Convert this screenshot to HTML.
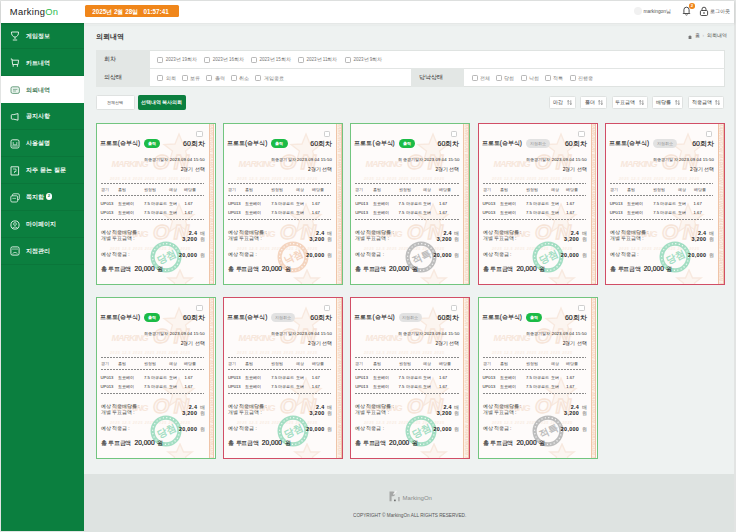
<!DOCTYPE html><html><head><meta charset="utf-8"><style>
*{box-sizing:border-box;margin:0;padding:0}
html,body{width:736px;height:532px;overflow:hidden}
body{position:relative;background:#e2e4e3;font-family:'Liberation Sans',sans-serif;color:#333}
.a{position:absolute;white-space:nowrap}
#hdr{left:1px;top:1px;width:733px;height:21.5px;background:#fff;box-shadow:0 1px 2.5px rgba(0,0,0,.16)}
#hsh{left:84px;top:22.5px;width:650px;height:2px;background:linear-gradient(#e2e5e4,#eef1f0)}
#side{left:1px;top:22.5px;width:83px;height:508.5px;background:#0b7f3f}
#main{left:84px;top:22.5px;width:650px;height:451.5px;background:#eef2f1}
#foot{left:84px;top:474px;width:650px;height:58px;background:#dee3e1}
.si{left:1px;width:83px;height:26.9px;border-bottom:0.6px solid rgba(0,30,10,.09);color:#f2f8f4;font-size:6.2px;font-weight:bold}
.si.on{background:#fff;color:#3f7a58;font-weight:bold;border-bottom:none}
.si .t{position:absolute;left:24.6px;top:9.3px;line-height:7px;letter-spacing:0.1px}
.si svg{position:absolute;left:8.6px;top:8.8px}
.ft{background:#fff;border:0.6px solid #dfe3e1}
.lab{background:#e3e7e5;color:#2a2a2a;font-weight:normal;font-size:5.6px;line-height:19px;padding-left:8.5px}
.cb{width:6px;height:6px;border:0.6px solid #b8b8b8;border-radius:1.2px;background:#fff}
.ct{font-size:4.5px;color:#777;line-height:6px}
.btn{background:#fff;border:0.6px solid #dfe2e1;border-radius:1.5px;font-size:4.4px;color:#333;text-align:center;line-height:13px}
.card{width:120.3px;height:162px;background:#fefbfa;border:1px solid #72c57f;overflow:hidden}
.card.r{border-color:#d14e66}
.strip{left:112.3px;top:0;width:5.6px;height:160px;background:#fcf1e9;border-left:1px solid #efc4a8;border-right:1px solid #efc4a8;overflow:hidden}
.stt{position:absolute;left:4.4px;top:-2px;transform-origin:0 0;transform:rotate(90deg);font-size:4.6px;line-height:5.6px;color:#f5d8c5;font-weight:bold;font-style:italic;letter-spacing:0.2px;white-space:nowrap}
.tt{left:3.2px;top:15.4px;font-size:6.4px;line-height:8px;color:#222;-webkit-text-stroke:0.1px #222}
.bdg{left:47.4px;top:15.2px;width:16.3px;height:9.2px;border-radius:4.6px;background:#1bbb46;color:#fff;font-size:3.8px;line-height:10.4px;text-align:center;font-weight:bold}
.bdg.x{width:23.8px;background:#e2e2e2;color:#8a8a8a;font-weight:normal;font-size:3.9px}
.rnd{right:10.1px;top:15.8px;font-size:7px;line-height:8px;font-weight:normal;color:#222;-webkit-text-stroke:0.12px #222}
.sm{margin-top:-0.5px;right:10.1px;font-size:4.3px;line-height:6px;color:#222;letter-spacing:0.1px}
.dl{left:4px;width:103.6px;height:1px;background:repeating-linear-gradient(90deg,#8a8a8a 0 2px,transparent 2px 3px)}
.gt,.gr{font-size:4.2px;line-height:5px;color:#444}
.gr{color:#1a1a1a}
.lb{left:4px;font-size:4.6px;line-height:6px;color:#333}
.vl{right:10.1px;font-size:4.8px;line-height:6px;color:#555}
.vl b{font-size:5.4px;color:#222;margin-right:2.6px;letter-spacing:0.3px}
.tot{left:4px;top:141.4px;font-size:5.6px;line-height:7px;color:#222;font-weight:normal;-webkit-text-stroke:0.08px #222}
</style></head><body><div class="a" id="side"></div>
<div class="a" id="main"></div>
<div class="a" id="foot"></div>
<div class="a" id="hdr"></div>
<div class="a" style="left:9.8px;top:5.6px;font-size:9.4px;line-height:11px;color:#222;letter-spacing:0.3px">Marking<span style="color:#2dbb4f">On</span></div>
<div class="a" style="left:84.6px;top:5.2px;width:94.5px;height:12.2px;background:#f0861a;border-radius:1.5px;color:#fff;font-size:6.3px;font-weight:bold;line-height:13.6px;padding-left:7.6px">2025년 2월 28일 &nbsp;&nbsp;01:57:41</div>
<div class="a" style="left:633.5px;top:6.8px;width:8px;height:8px;border-radius:50%;background:#f1f1f1"></div>
<div class="a" style="left:643.5px;top:9px;font-size:4.8px;color:#555;line-height:6px">markingon님</div>
<svg class="a" style="left:682px;top:5px" width="9" height="11" viewBox="0 0 9 11"><path d="M1.2 8.5 L1.9 7.5 V4.8 A2.6 2.6 0 0 1 7.1 4.8 V7.5 L7.8 8.5 Z" fill="none" stroke="#222" stroke-width="0.8" stroke-linejoin="round"/><path d="M3.4 9.6 Q4.5 10.6 5.6 9.6" fill="none" stroke="#222" stroke-width="0.7"/></svg>
<div class="a" style="left:689px;top:3.3px;width:5.6px;height:5.6px;border-radius:50%;background:#f0861a;color:#fff;font-size:4.2px;line-height:5.8px;text-align:center;font-weight:bold">2</div>
<svg class="a" style="left:698.5px;top:6px" width="10" height="10" viewBox="0 0 10 10"><path d="M3 4.5 V3.2 A2 2 0 0 1 7 3.2 V4.5" fill="none" stroke="#222" stroke-width="0.8"/><rect x="1.4" y="4.5" width="7.2" height="5" rx="1.2" fill="none" stroke="#222" stroke-width="0.8"/><circle cx="5" cy="7" r="0.8" fill="#222"/></svg>
<div class="a" style="left:709.8px;top:8.5px;font-size:4.6px;color:#555;line-height:6px">로그아웃</div>
<div class="a si" style="top:22.50px"><svg width="10" height="10" viewBox="0 0 10 10"><path d="M1.5 1 H8.5 Q8.8 5.2 5 6.2 Q1.2 5.2 1.5 1 Z" fill="none" stroke="#eef6f0" stroke-width="0.9"/><path d="M5 6.2 V8 M2.8 9 H7.2" stroke="#eef6f0" stroke-width="0.9"/></svg><span class="t">게임정보</span></div>
<div class="a si" style="top:49.40px"><svg width="10" height="10" viewBox="0 0 10 10"><path d="M0.8 1 H2 L2.6 6.5 H8 L8.6 2.2 H2.2" fill="none" stroke="#eef6f0" stroke-width="0.9"/><path d="M3.2 6.5 V8.8 M7.4 6.5 V8.8" stroke="#eef6f0" stroke-width="0.9"/></svg><span class="t">카트내역</span></div>
<div class="a si on" style="top:76.30px"><svg width="10" height="10" viewBox="0 0 10 10"><rect x="1" y="1.8" width="8.4" height="6.6" rx="1.6" fill="#e9f3ed" stroke="#4a8a64" stroke-width="0.8"/><path d="M3 4.4 H7.4 M3 6 H6" stroke="#4a8a64" stroke-width="0.6"/></svg><span class="t">의뢰내역</span></div>
<div class="a si" style="top:103.20px"><svg width="10" height="10" viewBox="0 0 10 10"><path d="M1.3 3.4 Q1.3 2.6 2.2 2.6 H3.8 L8 1.6 V8.2 L3.8 7.2 H2.2 Q1.3 7.2 1.3 6.4 Z" fill="none" stroke="#eef6f0" stroke-width="0.9" stroke-linejoin="round"/></svg><span class="t">공지사항</span></div>
<div class="a si" style="top:130.10px"><svg width="10" height="10" viewBox="0 0 10 10"><rect x="1" y="0.8" width="8" height="8.2" rx="1.5" fill="none" stroke="#eef6f0" stroke-width="0.9"/><path d="M3.2 3 V5.8 H6.8 V3 M2 7 H8" fill="none" stroke="#eef6f0" stroke-width="0.7"/></svg><span class="t">사용설명</span></div>
<div class="a si" style="top:157.00px"><svg width="10" height="10" viewBox="0 0 10 10"><path d="M1 0.8 H8.6 V9 H1 Z" fill="none" stroke="#eef6f0" stroke-width="0.9"/><path d="M3 3 H6 V5.5 H4.5 V7" fill="none" stroke="#eef6f0" stroke-width="0.7"/></svg><span class="t">자주 묻는 질문</span></div>
<div class="a si" style="top:183.90px"><svg width="10" height="10" viewBox="0 0 10 10"><rect x="2.5" y="0.8" width="6.8" height="6" rx="1.2" fill="none" stroke="#eef6f0" stroke-width="0.8"/><rect x="0.8" y="2.8" width="6.8" height="6.2" rx="1.2" fill="#0b7f3f" stroke="#eef6f0" stroke-width="0.8"/><path d="M2.4 5.4 H6" stroke="#eef6f0" stroke-width="0.6"/></svg><span class="t">쪽지함<span style="display:inline-block;width:6.3px;height:6.3px;border-radius:50%;background:#fff;color:#0b7f3f;font-size:4.2px;line-height:6.3px;text-align:center;vertical-align:top;margin-left:2px;margin-top:0.2px;font-weight:bold">2</span></span></div>
<div class="a si" style="top:210.80px"><svg width="10" height="10" viewBox="0 0 10 10"><circle cx="5" cy="5" r="4.1" fill="none" stroke="#eef6f0" stroke-width="0.9"/><circle cx="5" cy="4" r="1.4" fill="none" stroke="#eef6f0" stroke-width="0.7"/><path d="M2.6 8 Q5 5.6 7.4 8" fill="none" stroke="#eef6f0" stroke-width="0.7"/></svg><span class="t">마이페이지</span></div>
<div class="a si" style="top:237.70px"><svg width="10" height="10" viewBox="0 0 10 10"><rect x="0.9" y="0.9" width="8.2" height="8.2" rx="1.5" fill="none" stroke="#eef6f0" stroke-width="0.9"/><path d="M3 2.2 V4 M5 2.2 V4 M7 2.2 V4 M2.4 8 Q5 4.6 7.6 8" fill="none" stroke="#eef6f0" stroke-width="0.7"/></svg><span class="t">지점관리</span></div>
<div class="a" id="hsh"></div>
<div class="a" style="left:95.5px;top:32px;font-size:7.2px;font-weight:bold;color:#333;line-height:9px">의뢰내역</div>
<svg class="a" style="left:687.8px;top:34.6px" width="4" height="4" viewBox="0 0 4 4"><path d="M0 2 L2 0.2 L4 2 H3.4 V4 H0.6 V2 Z" fill="#777"/></svg><div class="a" style="left:694.6px;top:33.2px;font-size:4.5px;color:#555;line-height:6px">홈</div><div class="a" style="left:702.4px;top:33.2px;font-size:4.5px;color:#bbb;line-height:6px">›</div><div class="a" style="left:707px;top:33.2px;font-size:4.5px;color:#444;line-height:6px">의뢰내역</div>
<div class="a ft" style="left:95.5px;top:49.5px;width:629.3px;height:37.8px"></div>
<div class="a" style="left:95.5px;top:68px;width:629.3px;height:0.6px;background:#e2e5e4"></div>
<div class="a lab" style="left:95.5px;top:49.5px;width:54.3px;height:18.9px">회차</div>
<div class="a lab" style="left:95.5px;top:68.4px;width:54.3px;height:18.9px">의상태</div>
<div class="a lab" style="left:410.5px;top:68.4px;width:53.2px;height:18.9px">당낙상태</div>
<div class="a cb" style="left:157.40px;top:56.6px"></div><div class="a ct" style="left:165.70px;top:57.2px">2023년 19회차</div>
<div class="a cb" style="left:204.35px;top:56.6px"></div><div class="a ct" style="left:212.65px;top:57.2px">2023년 16회차</div>
<div class="a cb" style="left:251.30px;top:56.6px"></div><div class="a ct" style="left:259.60px;top:57.2px">2023년 15회차</div>
<div class="a cb" style="left:298.25px;top:56.6px"></div><div class="a ct" style="left:306.55px;top:57.2px">2023년 11회차</div>
<div class="a cb" style="left:345.20px;top:56.6px"></div><div class="a ct" style="left:353.50px;top:57.2px">2023년 9회차</div>
<div class="a cb" style="left:157.40px;top:75.2px"></div><div class="a ct" style="left:165.70px;top:75.8px">의뢰</div>
<div class="a cb" style="left:181.85px;top:75.2px"></div><div class="a ct" style="left:190.15px;top:75.8px">보류</div>
<div class="a cb" style="left:206.30px;top:75.2px"></div><div class="a ct" style="left:214.60px;top:75.8px">출력</div>
<div class="a cb" style="left:230.75px;top:75.2px"></div><div class="a ct" style="left:239.05px;top:75.8px">취소</div>
<div class="a cb" style="left:255.20px;top:75.2px"></div><div class="a ct" style="left:263.50px;top:75.8px">게임종료</div>
<div class="a cb" style="left:471.70px;top:75.2px"></div><div class="a ct" style="left:480.00px;top:75.8px">전체</div>
<div class="a cb" style="left:496.15px;top:75.2px"></div><div class="a ct" style="left:504.45px;top:75.8px">당첨</div>
<div class="a cb" style="left:520.60px;top:75.2px"></div><div class="a ct" style="left:528.90px;top:75.8px">낙첨</div>
<div class="a cb" style="left:545.05px;top:75.2px"></div><div class="a ct" style="left:553.35px;top:75.8px">적특</div>
<div class="a cb" style="left:569.50px;top:75.2px"></div><div class="a ct" style="left:577.80px;top:75.8px">진행중</div>
<div class="a btn" style="left:95.9px;top:95.4px;width:38.7px;height:14.2px;line-height:14.2px">전체선택</div>
<div class="a btn" style="left:137.8px;top:95.4px;width:48px;height:14.2px;line-height:14.2px;background:#0b7f3f;border-color:#0b7f3f;color:#fff;font-weight:bold;font-size:4.5px">선택내역 복사의뢰</div>
<div class="a btn" style="left:549px;top:96px;width:27.2px;height:12.8px;line-height:12.8px;font-size:4.6px;color:#2a2a2a">마감<svg style="margin-left:3.8px;vertical-align:-0.8px" width="5" height="5" viewBox="0 0 5 5"><path d="M1.2 4.8 V0.5 M0.2 1.6 L1.2 0.4 L2.2 1.6 M3.8 0.2 V4.5 M2.8 3.4 L3.8 4.6 L4.8 3.4" fill="none" stroke="#555" stroke-width="0.5"/></svg></div>
<div class="a btn" style="left:580.4px;top:96px;width:27.1px;height:12.8px;line-height:12.8px;font-size:4.6px;color:#2a2a2a">폴더<svg style="margin-left:3.8px;vertical-align:-0.8px" width="5" height="5" viewBox="0 0 5 5"><path d="M1.2 4.8 V0.5 M0.2 1.6 L1.2 0.4 L2.2 1.6 M3.8 0.2 V4.5 M2.8 3.4 L3.8 4.6 L4.8 3.4" fill="none" stroke="#555" stroke-width="0.5"/></svg></div>
<div class="a btn" style="left:612px;top:96px;width:35.5px;height:12.8px;line-height:12.8px;font-size:4.6px;color:#2a2a2a">투표금액<svg style="margin-left:3.8px;vertical-align:-0.8px" width="5" height="5" viewBox="0 0 5 5"><path d="M1.2 4.8 V0.5 M0.2 1.6 L1.2 0.4 L2.2 1.6 M3.8 0.2 V4.5 M2.8 3.4 L3.8 4.6 L4.8 3.4" fill="none" stroke="#555" stroke-width="0.5"/></svg></div>
<div class="a btn" style="left:652.3px;top:96px;width:31.1px;height:12.8px;line-height:12.8px;font-size:4.6px;color:#2a2a2a">배당률<svg style="margin-left:3.8px;vertical-align:-0.8px" width="5" height="5" viewBox="0 0 5 5"><path d="M1.2 4.8 V0.5 M0.2 1.6 L1.2 0.4 L2.2 1.6 M3.8 0.2 V4.5 M2.8 3.4 L3.8 4.6 L4.8 3.4" fill="none" stroke="#555" stroke-width="0.5"/></svg></div>
<div class="a btn" style="left:688px;top:96px;width:36.0px;height:12.8px;line-height:12.8px;font-size:4.6px;color:#2a2a2a">적중금액<svg style="margin-left:3.8px;vertical-align:-0.8px" width="5" height="5" viewBox="0 0 5 5"><path d="M1.2 4.8 V0.5 M0.2 1.6 L1.2 0.4 L2.2 1.6 M3.8 0.2 V4.5 M2.8 3.4 L3.8 4.6 L4.8 3.4" fill="none" stroke="#555" stroke-width="0.5"/></svg></div>
<div class="a card" style="left:95.60px;top:123px"><svg class="a" style="left:0;top:0px" width="112" height="60" viewBox="0 0 112 60"><path d="M82 10 L86 20 L97 20.5 L88.5 27 L91.5 37.5 L82 31.5 L72.5 37.5 L75.5 27 L67 20.5 L78 20 Z" fill="#fcf5f0" stroke="#f8e9df" stroke-width="1.3"/><text x="14.5" y="43" font-size="9" font-weight="bold" font-style="italic" font-family="Liberation Sans" fill="#f7e7dc" textLength="37">MARKING</text><text x="56" y="44.5" font-size="21" font-weight="bold" font-style="italic" font-family="Liberation Sans" fill="#fdf7f3" stroke="#f6e4d8" stroke-width="1.3" textLength="36">ON</text><text x="13" y="56" font-size="3.6" font-weight="bold" font-style="italic" font-family="Liberation Sans" fill="#f8ebe2" textLength="80">2025 12.5 2025 2025 2025 2025 2025</text></svg><svg class="a" style="left:0;top:70px" width="112" height="60" viewBox="0 0 112 60"><path d="M82 10 L86 20 L97 20.5 L88.5 27 L91.5 37.5 L82 31.5 L72.5 37.5 L75.5 27 L67 20.5 L78 20 Z" fill="#fcf5f0" stroke="#f8e9df" stroke-width="1.3"/><text x="14.5" y="43" font-size="9" font-weight="bold" font-style="italic" font-family="Liberation Sans" fill="#f7e7dc" textLength="37">MARKING</text><text x="56" y="44.5" font-size="21" font-weight="bold" font-style="italic" font-family="Liberation Sans" fill="#fdf7f3" stroke="#f6e4d8" stroke-width="1.3" textLength="36">ON</text><text x="13" y="56" font-size="3.6" font-weight="bold" font-style="italic" font-family="Liberation Sans" fill="#f8ebe2" textLength="80">2025 12.5 2025 2025 2025 2025 2025</text></svg><svg class="a" style="left:69px;top:145px" width="30" height="20" viewBox="0 0 30 20"><path d="M14 1 L17.5 9 L26 9 L19.5 14 L22 22 L14 17 L6 22 L8.5 14 L2 9 L10.5 9 Z" fill="#fcf5f0" stroke="#f8e9df" stroke-width="1.4"/></svg><div class="a strip"><div class="stt">MARKINGON MARKINGON MARKINGON MARKINGON MARKINGON MARKINGON</div></div><svg class="a" style="left:52.6px;top:116.3px" width="34" height="34" viewBox="0 0 34 34"><circle cx="17" cy="17" r="13.4" fill="none" stroke="#a3dec3" stroke-width="4.2"/><circle cx="17" cy="17" r="13.4" fill="none" stroke="#fff" stroke-width="1.1" stroke-dasharray="1.1 2.4" opacity=".95"/><text x="17.6" y="20.6" text-anchor="middle" font-size="9.8" font-weight="bold" fill="#a3dec3" transform="rotate(-25 17 17)" font-family="Liberation Sans">당첨</text></svg><div class="a cb" style="left:99.9px;top:6.6px;width:6.4px;height:6.4px;border-color:#cfcfcf"></div><div class="a tt">프로토(승부식)</div><div class="a bdg">출력</div><div class="a rnd">60회차</div><div class="a sm" style="top:33px">최종경기일자 2023.09.04 15:50</div><div class="a sm" style="top:43.6px;font-size:4.8px;letter-spacing:0">2경기 선택</div><div class="a dl" style="top:59px"></div><div class="a dl" style="top:71px"></div><div class="a dl" style="top:95px"></div><div class="a gt" style="left:4px;top:63.2px">경기</div><div class="a gt" style="left:21.5px;top:63.2px">홈팀</div><div class="a gt" style="left:47.4px;top:63.2px">원정팀</div><div class="a gt" style="left:72px;top:63.2px">예상</div><div class="a gt" style="left:87.8px;top:63.2px">배당률</div><div class="a gr" style="left:4px;top:77px">UP013</div><div class="a gr" style="left:21.5px;top:77px">요코베이</div><div class="a gr" style="left:47.4px;top:77px">7.5 마쿠르드</div><div class="a gr" style="left:72px;top:77px">오버</div><div class="a gr" style="left:87.8px;top:77px">1.67</div><div class="a gr" style="left:4px;top:86px">UP013</div><div class="a gr" style="left:21.5px;top:86px">요코베이</div><div class="a gr" style="left:47.4px;top:86px">7.5 마쿠르드</div><div class="a gr" style="left:72px;top:86px">오버</div><div class="a gr" style="left:87.8px;top:86px">1.67</div><div class="a lb" style="top:106px">예상 적중배당률 :</div><div class="a lb" style="top:112px">개별 투표금액 :</div><div class="a lb" style="top:127.5px">예상 적중금 :</div><div class="a vl" style="top:106px"><b>2.4</b><span>배</span></div><div class="a vl" style="top:112px"><b>3,200</b><span>원</span></div><div class="a vl" style="top:127.5px"><b>20,000</b><span>원</span></div><div class="a tot">총<span style="margin-left:1.8px;letter-spacing:-0.35px">투표금액</span><b style="margin-left:3.5px;margin-right:2.6px;font-size:6.6px;font-weight:normal;-webkit-text-stroke:0.2px #222">20,000</b>원</div></div>
<div class="a card" style="left:222.90px;top:123px"><svg class="a" style="left:0;top:0px" width="112" height="60" viewBox="0 0 112 60"><path d="M82 10 L86 20 L97 20.5 L88.5 27 L91.5 37.5 L82 31.5 L72.5 37.5 L75.5 27 L67 20.5 L78 20 Z" fill="#fcf5f0" stroke="#f8e9df" stroke-width="1.3"/><text x="14.5" y="43" font-size="9" font-weight="bold" font-style="italic" font-family="Liberation Sans" fill="#f7e7dc" textLength="37">MARKING</text><text x="56" y="44.5" font-size="21" font-weight="bold" font-style="italic" font-family="Liberation Sans" fill="#fdf7f3" stroke="#f6e4d8" stroke-width="1.3" textLength="36">ON</text><text x="13" y="56" font-size="3.6" font-weight="bold" font-style="italic" font-family="Liberation Sans" fill="#f8ebe2" textLength="80">2025 12.5 2025 2025 2025 2025 2025</text></svg><svg class="a" style="left:0;top:70px" width="112" height="60" viewBox="0 0 112 60"><path d="M82 10 L86 20 L97 20.5 L88.5 27 L91.5 37.5 L82 31.5 L72.5 37.5 L75.5 27 L67 20.5 L78 20 Z" fill="#fcf5f0" stroke="#f8e9df" stroke-width="1.3"/><text x="14.5" y="43" font-size="9" font-weight="bold" font-style="italic" font-family="Liberation Sans" fill="#f7e7dc" textLength="37">MARKING</text><text x="56" y="44.5" font-size="21" font-weight="bold" font-style="italic" font-family="Liberation Sans" fill="#fdf7f3" stroke="#f6e4d8" stroke-width="1.3" textLength="36">ON</text><text x="13" y="56" font-size="3.6" font-weight="bold" font-style="italic" font-family="Liberation Sans" fill="#f8ebe2" textLength="80">2025 12.5 2025 2025 2025 2025 2025</text></svg><svg class="a" style="left:69px;top:145px" width="30" height="20" viewBox="0 0 30 20"><path d="M14 1 L17.5 9 L26 9 L19.5 14 L22 22 L14 17 L6 22 L8.5 14 L2 9 L10.5 9 Z" fill="#fcf5f0" stroke="#f8e9df" stroke-width="1.4"/></svg><div class="a strip"><div class="stt">MARKINGON MARKINGON MARKINGON MARKINGON MARKINGON MARKINGON</div></div><svg class="a" style="left:52.6px;top:116.3px" width="34" height="34" viewBox="0 0 34 34"><circle cx="17" cy="17" r="13.4" fill="none" stroke="#f4d4bf" stroke-width="4.2"/><circle cx="17" cy="17" r="13.4" fill="none" stroke="#fff" stroke-width="1.1" stroke-dasharray="1.1 2.4" opacity=".95"/><text x="17.6" y="20.6" text-anchor="middle" font-size="9.8" font-weight="bold" fill="#f4d4bf" transform="rotate(-25 17 17)" font-family="Liberation Sans">낙첨</text></svg><div class="a cb" style="left:99.9px;top:6.6px;width:6.4px;height:6.4px;border-color:#cfcfcf"></div><div class="a tt">프로토(승부식)</div><div class="a bdg">출력</div><div class="a rnd">60회차</div><div class="a sm" style="top:33px">최종경기일자 2023.09.04 15:50</div><div class="a sm" style="top:43.6px;font-size:4.8px;letter-spacing:0">2경기 선택</div><div class="a dl" style="top:59px"></div><div class="a dl" style="top:71px"></div><div class="a dl" style="top:95px"></div><div class="a gt" style="left:4px;top:63.2px">경기</div><div class="a gt" style="left:21.5px;top:63.2px">홈팀</div><div class="a gt" style="left:47.4px;top:63.2px">원정팀</div><div class="a gt" style="left:72px;top:63.2px">예상</div><div class="a gt" style="left:87.8px;top:63.2px">배당률</div><div class="a gr" style="left:4px;top:77px">UP013</div><div class="a gr" style="left:21.5px;top:77px">요코베이</div><div class="a gr" style="left:47.4px;top:77px">7.5 마쿠르드</div><div class="a gr" style="left:72px;top:77px">오버</div><div class="a gr" style="left:87.8px;top:77px">1.67</div><div class="a gr" style="left:4px;top:86px">UP013</div><div class="a gr" style="left:21.5px;top:86px">요코베이</div><div class="a gr" style="left:47.4px;top:86px">7.5 마쿠르드</div><div class="a gr" style="left:72px;top:86px">오버</div><div class="a gr" style="left:87.8px;top:86px">1.67</div><div class="a lb" style="top:106px">예상 적중배당률 :</div><div class="a lb" style="top:112px">개별 투표금액 :</div><div class="a lb" style="top:127.5px">예상 적중금 :</div><div class="a vl" style="top:106px"><b>2.4</b><span>배</span></div><div class="a vl" style="top:112px"><b>3,200</b><span>원</span></div><div class="a vl" style="top:127.5px"><b>20,000</b><span>원</span></div><div class="a tot">총<span style="margin-left:1.8px;letter-spacing:-0.35px">투표금액</span><b style="margin-left:3.5px;margin-right:2.6px;font-size:6.6px;font-weight:normal;-webkit-text-stroke:0.2px #222">20,000</b>원</div></div>
<div class="a card" style="left:350.20px;top:123px"><svg class="a" style="left:0;top:0px" width="112" height="60" viewBox="0 0 112 60"><path d="M82 10 L86 20 L97 20.5 L88.5 27 L91.5 37.5 L82 31.5 L72.5 37.5 L75.5 27 L67 20.5 L78 20 Z" fill="#fcf5f0" stroke="#f8e9df" stroke-width="1.3"/><text x="14.5" y="43" font-size="9" font-weight="bold" font-style="italic" font-family="Liberation Sans" fill="#f7e7dc" textLength="37">MARKING</text><text x="56" y="44.5" font-size="21" font-weight="bold" font-style="italic" font-family="Liberation Sans" fill="#fdf7f3" stroke="#f6e4d8" stroke-width="1.3" textLength="36">ON</text><text x="13" y="56" font-size="3.6" font-weight="bold" font-style="italic" font-family="Liberation Sans" fill="#f8ebe2" textLength="80">2025 12.5 2025 2025 2025 2025 2025</text></svg><svg class="a" style="left:0;top:70px" width="112" height="60" viewBox="0 0 112 60"><path d="M82 10 L86 20 L97 20.5 L88.5 27 L91.5 37.5 L82 31.5 L72.5 37.5 L75.5 27 L67 20.5 L78 20 Z" fill="#fcf5f0" stroke="#f8e9df" stroke-width="1.3"/><text x="14.5" y="43" font-size="9" font-weight="bold" font-style="italic" font-family="Liberation Sans" fill="#f7e7dc" textLength="37">MARKING</text><text x="56" y="44.5" font-size="21" font-weight="bold" font-style="italic" font-family="Liberation Sans" fill="#fdf7f3" stroke="#f6e4d8" stroke-width="1.3" textLength="36">ON</text><text x="13" y="56" font-size="3.6" font-weight="bold" font-style="italic" font-family="Liberation Sans" fill="#f8ebe2" textLength="80">2025 12.5 2025 2025 2025 2025 2025</text></svg><svg class="a" style="left:69px;top:145px" width="30" height="20" viewBox="0 0 30 20"><path d="M14 1 L17.5 9 L26 9 L19.5 14 L22 22 L14 17 L6 22 L8.5 14 L2 9 L10.5 9 Z" fill="#fcf5f0" stroke="#f8e9df" stroke-width="1.4"/></svg><div class="a strip"><div class="stt">MARKINGON MARKINGON MARKINGON MARKINGON MARKINGON MARKINGON</div></div><svg class="a" style="left:52.6px;top:116.3px" width="34" height="34" viewBox="0 0 34 34"><circle cx="17" cy="17" r="13.4" fill="none" stroke="#bdbdbd" stroke-width="4.2"/><circle cx="17" cy="17" r="13.4" fill="none" stroke="#fff" stroke-width="1.1" stroke-dasharray="1.1 2.4" opacity=".95"/><text x="17.6" y="20.6" text-anchor="middle" font-size="9.8" font-weight="bold" fill="#bdbdbd" transform="rotate(-25 17 17)" font-family="Liberation Sans">적특</text></svg><div class="a cb" style="left:99.9px;top:6.6px;width:6.4px;height:6.4px;border-color:#cfcfcf"></div><div class="a tt">프로토(승부식)</div><div class="a bdg">출력</div><div class="a rnd">60회차</div><div class="a sm" style="top:33px">최종경기일자 2023.09.04 15:50</div><div class="a sm" style="top:43.6px;font-size:4.8px;letter-spacing:0">2경기 선택</div><div class="a dl" style="top:59px"></div><div class="a dl" style="top:71px"></div><div class="a dl" style="top:95px"></div><div class="a gt" style="left:4px;top:63.2px">경기</div><div class="a gt" style="left:21.5px;top:63.2px">홈팀</div><div class="a gt" style="left:47.4px;top:63.2px">원정팀</div><div class="a gt" style="left:72px;top:63.2px">예상</div><div class="a gt" style="left:87.8px;top:63.2px">배당률</div><div class="a gr" style="left:4px;top:77px">UP013</div><div class="a gr" style="left:21.5px;top:77px">요코베이</div><div class="a gr" style="left:47.4px;top:77px">7.5 마쿠르드</div><div class="a gr" style="left:72px;top:77px">오버</div><div class="a gr" style="left:87.8px;top:77px">1.67</div><div class="a gr" style="left:4px;top:86px">UP013</div><div class="a gr" style="left:21.5px;top:86px">요코베이</div><div class="a gr" style="left:47.4px;top:86px">7.5 마쿠르드</div><div class="a gr" style="left:72px;top:86px">오버</div><div class="a gr" style="left:87.8px;top:86px">1.67</div><div class="a lb" style="top:106px">예상 적중배당률 :</div><div class="a lb" style="top:112px">개별 투표금액 :</div><div class="a lb" style="top:127.5px">예상 적중금 :</div><div class="a vl" style="top:106px"><b>2.4</b><span>배</span></div><div class="a vl" style="top:112px"><b>3,200</b><span>원</span></div><div class="a vl" style="top:127.5px"><b>20,000</b><span>원</span></div><div class="a tot">총<span style="margin-left:1.8px;letter-spacing:-0.35px">투표금액</span><b style="margin-left:3.5px;margin-right:2.6px;font-size:6.6px;font-weight:normal;-webkit-text-stroke:0.2px #222">20,000</b>원</div></div>
<div class="a card r" style="left:477.50px;top:123px"><svg class="a" style="left:0;top:0px" width="112" height="60" viewBox="0 0 112 60"><path d="M82 10 L86 20 L97 20.5 L88.5 27 L91.5 37.5 L82 31.5 L72.5 37.5 L75.5 27 L67 20.5 L78 20 Z" fill="#fcf5f0" stroke="#f8e9df" stroke-width="1.3"/><text x="14.5" y="43" font-size="9" font-weight="bold" font-style="italic" font-family="Liberation Sans" fill="#f7e7dc" textLength="37">MARKING</text><text x="56" y="44.5" font-size="21" font-weight="bold" font-style="italic" font-family="Liberation Sans" fill="#fdf7f3" stroke="#f6e4d8" stroke-width="1.3" textLength="36">ON</text><text x="13" y="56" font-size="3.6" font-weight="bold" font-style="italic" font-family="Liberation Sans" fill="#f8ebe2" textLength="80">2025 12.5 2025 2025 2025 2025 2025</text></svg><svg class="a" style="left:0;top:70px" width="112" height="60" viewBox="0 0 112 60"><path d="M82 10 L86 20 L97 20.5 L88.5 27 L91.5 37.5 L82 31.5 L72.5 37.5 L75.5 27 L67 20.5 L78 20 Z" fill="#fcf5f0" stroke="#f8e9df" stroke-width="1.3"/><text x="14.5" y="43" font-size="9" font-weight="bold" font-style="italic" font-family="Liberation Sans" fill="#f7e7dc" textLength="37">MARKING</text><text x="56" y="44.5" font-size="21" font-weight="bold" font-style="italic" font-family="Liberation Sans" fill="#fdf7f3" stroke="#f6e4d8" stroke-width="1.3" textLength="36">ON</text><text x="13" y="56" font-size="3.6" font-weight="bold" font-style="italic" font-family="Liberation Sans" fill="#f8ebe2" textLength="80">2025 12.5 2025 2025 2025 2025 2025</text></svg><svg class="a" style="left:69px;top:145px" width="30" height="20" viewBox="0 0 30 20"><path d="M14 1 L17.5 9 L26 9 L19.5 14 L22 22 L14 17 L6 22 L8.5 14 L2 9 L10.5 9 Z" fill="#fcf5f0" stroke="#f8e9df" stroke-width="1.4"/></svg><div class="a strip"><div class="stt">MARKINGON MARKINGON MARKINGON MARKINGON MARKINGON MARKINGON</div></div><svg class="a" style="left:52.6px;top:116.3px" width="34" height="34" viewBox="0 0 34 34"><circle cx="17" cy="17" r="13.4" fill="none" stroke="#a3dec3" stroke-width="4.2"/><circle cx="17" cy="17" r="13.4" fill="none" stroke="#fff" stroke-width="1.1" stroke-dasharray="1.1 2.4" opacity=".95"/><text x="17.6" y="20.6" text-anchor="middle" font-size="9.8" font-weight="bold" fill="#a3dec3" transform="rotate(-25 17 17)" font-family="Liberation Sans">당첨</text></svg><div class="a cb" style="left:99.9px;top:6.6px;width:6.4px;height:6.4px;border-color:#cfcfcf"></div><div class="a tt">프로토(승부식)</div><div class="a bdg x">지점취소</div><div class="a rnd">60회차</div><div class="a sm" style="top:33px">최종경기일자 2023.09.04 15:50</div><div class="a sm" style="top:43.6px;font-size:4.8px;letter-spacing:0">2경기 선택</div><div class="a dl" style="top:59px"></div><div class="a dl" style="top:71px"></div><div class="a dl" style="top:95px"></div><div class="a gt" style="left:4px;top:63.2px">경기</div><div class="a gt" style="left:21.5px;top:63.2px">홈팀</div><div class="a gt" style="left:47.4px;top:63.2px">원정팀</div><div class="a gt" style="left:72px;top:63.2px">예상</div><div class="a gt" style="left:87.8px;top:63.2px">배당률</div><div class="a gr" style="left:4px;top:77px">UP013</div><div class="a gr" style="left:21.5px;top:77px">요코베이</div><div class="a gr" style="left:47.4px;top:77px">7.5 마쿠르드</div><div class="a gr" style="left:72px;top:77px">오버</div><div class="a gr" style="left:87.8px;top:77px">1.67</div><div class="a gr" style="left:4px;top:86px">UP013</div><div class="a gr" style="left:21.5px;top:86px">요코베이</div><div class="a gr" style="left:47.4px;top:86px">7.5 마쿠르드</div><div class="a gr" style="left:72px;top:86px">오버</div><div class="a gr" style="left:87.8px;top:86px">1.67</div><div class="a lb" style="top:106px">예상 적중배당률 :</div><div class="a lb" style="top:112px">개별 투표금액 :</div><div class="a lb" style="top:127.5px">예상 적중금 :</div><div class="a vl" style="top:106px"><b>2.4</b><span>배</span></div><div class="a vl" style="top:112px"><b>3,200</b><span>원</span></div><div class="a vl" style="top:127.5px"><b>20,000</b><span>원</span></div><div class="a tot">총<span style="margin-left:1.8px;letter-spacing:-0.35px">투표금액</span><b style="margin-left:3.5px;margin-right:2.6px;font-size:6.6px;font-weight:normal;-webkit-text-stroke:0.2px #222">20,000</b>원</div></div>
<div class="a card r" style="left:604.80px;top:123px"><svg class="a" style="left:0;top:0px" width="112" height="60" viewBox="0 0 112 60"><path d="M82 10 L86 20 L97 20.5 L88.5 27 L91.5 37.5 L82 31.5 L72.5 37.5 L75.5 27 L67 20.5 L78 20 Z" fill="#fcf5f0" stroke="#f8e9df" stroke-width="1.3"/><text x="14.5" y="43" font-size="9" font-weight="bold" font-style="italic" font-family="Liberation Sans" fill="#f7e7dc" textLength="37">MARKING</text><text x="56" y="44.5" font-size="21" font-weight="bold" font-style="italic" font-family="Liberation Sans" fill="#fdf7f3" stroke="#f6e4d8" stroke-width="1.3" textLength="36">ON</text><text x="13" y="56" font-size="3.6" font-weight="bold" font-style="italic" font-family="Liberation Sans" fill="#f8ebe2" textLength="80">2025 12.5 2025 2025 2025 2025 2025</text></svg><svg class="a" style="left:0;top:70px" width="112" height="60" viewBox="0 0 112 60"><path d="M82 10 L86 20 L97 20.5 L88.5 27 L91.5 37.5 L82 31.5 L72.5 37.5 L75.5 27 L67 20.5 L78 20 Z" fill="#fcf5f0" stroke="#f8e9df" stroke-width="1.3"/><text x="14.5" y="43" font-size="9" font-weight="bold" font-style="italic" font-family="Liberation Sans" fill="#f7e7dc" textLength="37">MARKING</text><text x="56" y="44.5" font-size="21" font-weight="bold" font-style="italic" font-family="Liberation Sans" fill="#fdf7f3" stroke="#f6e4d8" stroke-width="1.3" textLength="36">ON</text><text x="13" y="56" font-size="3.6" font-weight="bold" font-style="italic" font-family="Liberation Sans" fill="#f8ebe2" textLength="80">2025 12.5 2025 2025 2025 2025 2025</text></svg><svg class="a" style="left:69px;top:145px" width="30" height="20" viewBox="0 0 30 20"><path d="M14 1 L17.5 9 L26 9 L19.5 14 L22 22 L14 17 L6 22 L8.5 14 L2 9 L10.5 9 Z" fill="#fcf5f0" stroke="#f8e9df" stroke-width="1.4"/></svg><div class="a strip"><div class="stt">MARKINGON MARKINGON MARKINGON MARKINGON MARKINGON MARKINGON</div></div><svg class="a" style="left:52.6px;top:116.3px" width="34" height="34" viewBox="0 0 34 34"><circle cx="17" cy="17" r="13.4" fill="none" stroke="#a3dec3" stroke-width="4.2"/><circle cx="17" cy="17" r="13.4" fill="none" stroke="#fff" stroke-width="1.1" stroke-dasharray="1.1 2.4" opacity=".95"/><text x="17.6" y="20.6" text-anchor="middle" font-size="9.8" font-weight="bold" fill="#a3dec3" transform="rotate(-25 17 17)" font-family="Liberation Sans">당첨</text></svg><div class="a cb" style="left:99.9px;top:6.6px;width:6.4px;height:6.4px;border-color:#cfcfcf"></div><div class="a tt">프로토(승부식)</div><div class="a bdg x">지점취소</div><div class="a rnd">60회차</div><div class="a sm" style="top:33px">최종경기일자 2023.09.04 15:50</div><div class="a sm" style="top:43.6px;font-size:4.8px;letter-spacing:0">2경기 선택</div><div class="a dl" style="top:59px"></div><div class="a dl" style="top:71px"></div><div class="a dl" style="top:95px"></div><div class="a gt" style="left:4px;top:63.2px">경기</div><div class="a gt" style="left:21.5px;top:63.2px">홈팀</div><div class="a gt" style="left:47.4px;top:63.2px">원정팀</div><div class="a gt" style="left:72px;top:63.2px">예상</div><div class="a gt" style="left:87.8px;top:63.2px">배당률</div><div class="a gr" style="left:4px;top:77px">UP013</div><div class="a gr" style="left:21.5px;top:77px">요코베이</div><div class="a gr" style="left:47.4px;top:77px">7.5 마쿠르드</div><div class="a gr" style="left:72px;top:77px">오버</div><div class="a gr" style="left:87.8px;top:77px">1.67</div><div class="a gr" style="left:4px;top:86px">UP013</div><div class="a gr" style="left:21.5px;top:86px">요코베이</div><div class="a gr" style="left:47.4px;top:86px">7.5 마쿠르드</div><div class="a gr" style="left:72px;top:86px">오버</div><div class="a gr" style="left:87.8px;top:86px">1.67</div><div class="a lb" style="top:106px">예상 적중배당률 :</div><div class="a lb" style="top:112px">개별 투표금액 :</div><div class="a lb" style="top:127.5px">예상 적중금 :</div><div class="a vl" style="top:106px"><b>2.4</b><span>배</span></div><div class="a vl" style="top:112px"><b>3,200</b><span>원</span></div><div class="a vl" style="top:127.5px"><b>20,000</b><span>원</span></div><div class="a tot">총<span style="margin-left:1.8px;letter-spacing:-0.35px">투표금액</span><b style="margin-left:3.5px;margin-right:2.6px;font-size:6.6px;font-weight:normal;-webkit-text-stroke:0.2px #222">20,000</b>원</div></div>
<div class="a card" style="left:95.60px;top:297px"><svg class="a" style="left:0;top:0px" width="112" height="60" viewBox="0 0 112 60"><path d="M82 10 L86 20 L97 20.5 L88.5 27 L91.5 37.5 L82 31.5 L72.5 37.5 L75.5 27 L67 20.5 L78 20 Z" fill="#fcf5f0" stroke="#f8e9df" stroke-width="1.3"/><text x="14.5" y="43" font-size="9" font-weight="bold" font-style="italic" font-family="Liberation Sans" fill="#f7e7dc" textLength="37">MARKING</text><text x="56" y="44.5" font-size="21" font-weight="bold" font-style="italic" font-family="Liberation Sans" fill="#fdf7f3" stroke="#f6e4d8" stroke-width="1.3" textLength="36">ON</text><text x="13" y="56" font-size="3.6" font-weight="bold" font-style="italic" font-family="Liberation Sans" fill="#f8ebe2" textLength="80">2025 12.5 2025 2025 2025 2025 2025</text></svg><svg class="a" style="left:0;top:70px" width="112" height="60" viewBox="0 0 112 60"><path d="M82 10 L86 20 L97 20.5 L88.5 27 L91.5 37.5 L82 31.5 L72.5 37.5 L75.5 27 L67 20.5 L78 20 Z" fill="#fcf5f0" stroke="#f8e9df" stroke-width="1.3"/><text x="14.5" y="43" font-size="9" font-weight="bold" font-style="italic" font-family="Liberation Sans" fill="#f7e7dc" textLength="37">MARKING</text><text x="56" y="44.5" font-size="21" font-weight="bold" font-style="italic" font-family="Liberation Sans" fill="#fdf7f3" stroke="#f6e4d8" stroke-width="1.3" textLength="36">ON</text><text x="13" y="56" font-size="3.6" font-weight="bold" font-style="italic" font-family="Liberation Sans" fill="#f8ebe2" textLength="80">2025 12.5 2025 2025 2025 2025 2025</text></svg><svg class="a" style="left:69px;top:145px" width="30" height="20" viewBox="0 0 30 20"><path d="M14 1 L17.5 9 L26 9 L19.5 14 L22 22 L14 17 L6 22 L8.5 14 L2 9 L10.5 9 Z" fill="#fcf5f0" stroke="#f8e9df" stroke-width="1.4"/></svg><div class="a strip"><div class="stt">MARKINGON MARKINGON MARKINGON MARKINGON MARKINGON MARKINGON</div></div><svg class="a" style="left:52.6px;top:116.3px" width="34" height="34" viewBox="0 0 34 34"><circle cx="17" cy="17" r="13.4" fill="none" stroke="#a3dec3" stroke-width="4.2"/><circle cx="17" cy="17" r="13.4" fill="none" stroke="#fff" stroke-width="1.1" stroke-dasharray="1.1 2.4" opacity=".95"/><text x="17.6" y="20.6" text-anchor="middle" font-size="9.8" font-weight="bold" fill="#a3dec3" transform="rotate(-25 17 17)" font-family="Liberation Sans">당첨</text></svg><div class="a cb" style="left:99.9px;top:6.6px;width:6.4px;height:6.4px;border-color:#cfcfcf"></div><div class="a tt">프로토(승부식)</div><div class="a bdg">출력</div><div class="a rnd">60회차</div><div class="a sm" style="top:33px">최종경기일자 2023.09.04 15:50</div><div class="a sm" style="top:43.6px;font-size:4.8px;letter-spacing:0">2경기 선택</div><div class="a dl" style="top:59px"></div><div class="a dl" style="top:71px"></div><div class="a dl" style="top:95px"></div><div class="a gt" style="left:4px;top:63.2px">경기</div><div class="a gt" style="left:21.5px;top:63.2px">홈팀</div><div class="a gt" style="left:47.4px;top:63.2px">원정팀</div><div class="a gt" style="left:72px;top:63.2px">예상</div><div class="a gt" style="left:87.8px;top:63.2px">배당률</div><div class="a gr" style="left:4px;top:77px">UP013</div><div class="a gr" style="left:21.5px;top:77px">요코베이</div><div class="a gr" style="left:47.4px;top:77px">7.5 마쿠르드</div><div class="a gr" style="left:72px;top:77px">오버</div><div class="a gr" style="left:87.8px;top:77px">1.67</div><div class="a gr" style="left:4px;top:86px">UP013</div><div class="a gr" style="left:21.5px;top:86px">요코베이</div><div class="a gr" style="left:47.4px;top:86px">7.5 마쿠르드</div><div class="a gr" style="left:72px;top:86px">오버</div><div class="a gr" style="left:87.8px;top:86px">1.67</div><div class="a lb" style="top:106px">예상 적중배당률 :</div><div class="a lb" style="top:112px">개별 투표금액 :</div><div class="a lb" style="top:127.5px">예상 적중금 :</div><div class="a vl" style="top:106px"><b>2.4</b><span>배</span></div><div class="a vl" style="top:112px"><b>3,200</b><span>원</span></div><div class="a vl" style="top:127.5px"><b>20,000</b><span>원</span></div><div class="a tot">총<span style="margin-left:1.8px;letter-spacing:-0.35px">투표금액</span><b style="margin-left:3.5px;margin-right:2.6px;font-size:6.6px;font-weight:normal;-webkit-text-stroke:0.2px #222">20,000</b>원</div></div>
<div class="a card r" style="left:222.90px;top:297px"><svg class="a" style="left:0;top:0px" width="112" height="60" viewBox="0 0 112 60"><path d="M82 10 L86 20 L97 20.5 L88.5 27 L91.5 37.5 L82 31.5 L72.5 37.5 L75.5 27 L67 20.5 L78 20 Z" fill="#fcf5f0" stroke="#f8e9df" stroke-width="1.3"/><text x="14.5" y="43" font-size="9" font-weight="bold" font-style="italic" font-family="Liberation Sans" fill="#f7e7dc" textLength="37">MARKING</text><text x="56" y="44.5" font-size="21" font-weight="bold" font-style="italic" font-family="Liberation Sans" fill="#fdf7f3" stroke="#f6e4d8" stroke-width="1.3" textLength="36">ON</text><text x="13" y="56" font-size="3.6" font-weight="bold" font-style="italic" font-family="Liberation Sans" fill="#f8ebe2" textLength="80">2025 12.5 2025 2025 2025 2025 2025</text></svg><svg class="a" style="left:0;top:70px" width="112" height="60" viewBox="0 0 112 60"><path d="M82 10 L86 20 L97 20.5 L88.5 27 L91.5 37.5 L82 31.5 L72.5 37.5 L75.5 27 L67 20.5 L78 20 Z" fill="#fcf5f0" stroke="#f8e9df" stroke-width="1.3"/><text x="14.5" y="43" font-size="9" font-weight="bold" font-style="italic" font-family="Liberation Sans" fill="#f7e7dc" textLength="37">MARKING</text><text x="56" y="44.5" font-size="21" font-weight="bold" font-style="italic" font-family="Liberation Sans" fill="#fdf7f3" stroke="#f6e4d8" stroke-width="1.3" textLength="36">ON</text><text x="13" y="56" font-size="3.6" font-weight="bold" font-style="italic" font-family="Liberation Sans" fill="#f8ebe2" textLength="80">2025 12.5 2025 2025 2025 2025 2025</text></svg><svg class="a" style="left:69px;top:145px" width="30" height="20" viewBox="0 0 30 20"><path d="M14 1 L17.5 9 L26 9 L19.5 14 L22 22 L14 17 L6 22 L8.5 14 L2 9 L10.5 9 Z" fill="#fcf5f0" stroke="#f8e9df" stroke-width="1.4"/></svg><div class="a strip"><div class="stt">MARKINGON MARKINGON MARKINGON MARKINGON MARKINGON MARKINGON</div></div><svg class="a" style="left:52.6px;top:116.3px" width="34" height="34" viewBox="0 0 34 34"><circle cx="17" cy="17" r="13.4" fill="none" stroke="#a3dec3" stroke-width="4.2"/><circle cx="17" cy="17" r="13.4" fill="none" stroke="#fff" stroke-width="1.1" stroke-dasharray="1.1 2.4" opacity=".95"/><text x="17.6" y="20.6" text-anchor="middle" font-size="9.8" font-weight="bold" fill="#a3dec3" transform="rotate(-25 17 17)" font-family="Liberation Sans">당첨</text></svg><div class="a cb" style="left:99.9px;top:6.6px;width:6.4px;height:6.4px;border-color:#cfcfcf"></div><div class="a tt">프로토(승부식)</div><div class="a bdg x">지점취소</div><div class="a rnd">60회차</div><div class="a sm" style="top:33px">최종경기일자 2023.09.04 15:50</div><div class="a sm" style="top:43.6px;font-size:4.8px;letter-spacing:0">2경기 선택</div><div class="a dl" style="top:59px"></div><div class="a dl" style="top:71px"></div><div class="a dl" style="top:95px"></div><div class="a gt" style="left:4px;top:63.2px">경기</div><div class="a gt" style="left:21.5px;top:63.2px">홈팀</div><div class="a gt" style="left:47.4px;top:63.2px">원정팀</div><div class="a gt" style="left:72px;top:63.2px">예상</div><div class="a gt" style="left:87.8px;top:63.2px">배당률</div><div class="a gr" style="left:4px;top:77px">UP013</div><div class="a gr" style="left:21.5px;top:77px">요코베이</div><div class="a gr" style="left:47.4px;top:77px">7.5 마쿠르드</div><div class="a gr" style="left:72px;top:77px">오버</div><div class="a gr" style="left:87.8px;top:77px">1.67</div><div class="a gr" style="left:4px;top:86px">UP013</div><div class="a gr" style="left:21.5px;top:86px">요코베이</div><div class="a gr" style="left:47.4px;top:86px">7.5 마쿠르드</div><div class="a gr" style="left:72px;top:86px">오버</div><div class="a gr" style="left:87.8px;top:86px">1.67</div><div class="a lb" style="top:106px">예상 적중배당률 :</div><div class="a lb" style="top:112px">개별 투표금액 :</div><div class="a lb" style="top:127.5px">예상 적중금 :</div><div class="a vl" style="top:106px"><b>2.4</b><span>배</span></div><div class="a vl" style="top:112px"><b>3,200</b><span>원</span></div><div class="a vl" style="top:127.5px"><b>20,000</b><span>원</span></div><div class="a tot">총<span style="margin-left:1.8px;letter-spacing:-0.35px">투표금액</span><b style="margin-left:3.5px;margin-right:2.6px;font-size:6.6px;font-weight:normal;-webkit-text-stroke:0.2px #222">20,000</b>원</div></div>
<div class="a card r" style="left:350.20px;top:297px"><svg class="a" style="left:0;top:0px" width="112" height="60" viewBox="0 0 112 60"><path d="M82 10 L86 20 L97 20.5 L88.5 27 L91.5 37.5 L82 31.5 L72.5 37.5 L75.5 27 L67 20.5 L78 20 Z" fill="#fcf5f0" stroke="#f8e9df" stroke-width="1.3"/><text x="14.5" y="43" font-size="9" font-weight="bold" font-style="italic" font-family="Liberation Sans" fill="#f7e7dc" textLength="37">MARKING</text><text x="56" y="44.5" font-size="21" font-weight="bold" font-style="italic" font-family="Liberation Sans" fill="#fdf7f3" stroke="#f6e4d8" stroke-width="1.3" textLength="36">ON</text><text x="13" y="56" font-size="3.6" font-weight="bold" font-style="italic" font-family="Liberation Sans" fill="#f8ebe2" textLength="80">2025 12.5 2025 2025 2025 2025 2025</text></svg><svg class="a" style="left:0;top:70px" width="112" height="60" viewBox="0 0 112 60"><path d="M82 10 L86 20 L97 20.5 L88.5 27 L91.5 37.5 L82 31.5 L72.5 37.5 L75.5 27 L67 20.5 L78 20 Z" fill="#fcf5f0" stroke="#f8e9df" stroke-width="1.3"/><text x="14.5" y="43" font-size="9" font-weight="bold" font-style="italic" font-family="Liberation Sans" fill="#f7e7dc" textLength="37">MARKING</text><text x="56" y="44.5" font-size="21" font-weight="bold" font-style="italic" font-family="Liberation Sans" fill="#fdf7f3" stroke="#f6e4d8" stroke-width="1.3" textLength="36">ON</text><text x="13" y="56" font-size="3.6" font-weight="bold" font-style="italic" font-family="Liberation Sans" fill="#f8ebe2" textLength="80">2025 12.5 2025 2025 2025 2025 2025</text></svg><svg class="a" style="left:69px;top:145px" width="30" height="20" viewBox="0 0 30 20"><path d="M14 1 L17.5 9 L26 9 L19.5 14 L22 22 L14 17 L6 22 L8.5 14 L2 9 L10.5 9 Z" fill="#fcf5f0" stroke="#f8e9df" stroke-width="1.4"/></svg><div class="a strip"><div class="stt">MARKINGON MARKINGON MARKINGON MARKINGON MARKINGON MARKINGON</div></div><svg class="a" style="left:52.6px;top:116.3px" width="34" height="34" viewBox="0 0 34 34"><circle cx="17" cy="17" r="13.4" fill="none" stroke="#a3dec3" stroke-width="4.2"/><circle cx="17" cy="17" r="13.4" fill="none" stroke="#fff" stroke-width="1.1" stroke-dasharray="1.1 2.4" opacity=".95"/><text x="17.6" y="20.6" text-anchor="middle" font-size="9.8" font-weight="bold" fill="#a3dec3" transform="rotate(-25 17 17)" font-family="Liberation Sans">당첨</text></svg><div class="a cb" style="left:99.9px;top:6.6px;width:6.4px;height:6.4px;border-color:#cfcfcf"></div><div class="a tt">프로토(승부식)</div><div class="a bdg x">지점취소</div><div class="a rnd">60회차</div><div class="a sm" style="top:33px">최종경기일자 2023.09.04 15:50</div><div class="a sm" style="top:43.6px;font-size:4.8px;letter-spacing:0">2경기 선택</div><div class="a dl" style="top:59px"></div><div class="a dl" style="top:71px"></div><div class="a dl" style="top:95px"></div><div class="a gt" style="left:4px;top:63.2px">경기</div><div class="a gt" style="left:21.5px;top:63.2px">홈팀</div><div class="a gt" style="left:47.4px;top:63.2px">원정팀</div><div class="a gt" style="left:72px;top:63.2px">예상</div><div class="a gt" style="left:87.8px;top:63.2px">배당률</div><div class="a gr" style="left:4px;top:77px">UP013</div><div class="a gr" style="left:21.5px;top:77px">요코베이</div><div class="a gr" style="left:47.4px;top:77px">7.5 마쿠르드</div><div class="a gr" style="left:72px;top:77px">오버</div><div class="a gr" style="left:87.8px;top:77px">1.67</div><div class="a gr" style="left:4px;top:86px">UP013</div><div class="a gr" style="left:21.5px;top:86px">요코베이</div><div class="a gr" style="left:47.4px;top:86px">7.5 마쿠르드</div><div class="a gr" style="left:72px;top:86px">오버</div><div class="a gr" style="left:87.8px;top:86px">1.67</div><div class="a lb" style="top:106px">예상 적중배당률 :</div><div class="a lb" style="top:112px">개별 투표금액 :</div><div class="a lb" style="top:127.5px">예상 적중금 :</div><div class="a vl" style="top:106px"><b>2.4</b><span>배</span></div><div class="a vl" style="top:112px"><b>3,200</b><span>원</span></div><div class="a vl" style="top:127.5px"><b>20,000</b><span>원</span></div><div class="a tot">총<span style="margin-left:1.8px;letter-spacing:-0.35px">투표금액</span><b style="margin-left:3.5px;margin-right:2.6px;font-size:6.6px;font-weight:normal;-webkit-text-stroke:0.2px #222">20,000</b>원</div></div>
<div class="a card" style="left:477.50px;top:297px"><svg class="a" style="left:0;top:0px" width="112" height="60" viewBox="0 0 112 60"><path d="M82 10 L86 20 L97 20.5 L88.5 27 L91.5 37.5 L82 31.5 L72.5 37.5 L75.5 27 L67 20.5 L78 20 Z" fill="#fcf5f0" stroke="#f8e9df" stroke-width="1.3"/><text x="14.5" y="43" font-size="9" font-weight="bold" font-style="italic" font-family="Liberation Sans" fill="#f7e7dc" textLength="37">MARKING</text><text x="56" y="44.5" font-size="21" font-weight="bold" font-style="italic" font-family="Liberation Sans" fill="#fdf7f3" stroke="#f6e4d8" stroke-width="1.3" textLength="36">ON</text><text x="13" y="56" font-size="3.6" font-weight="bold" font-style="italic" font-family="Liberation Sans" fill="#f8ebe2" textLength="80">2025 12.5 2025 2025 2025 2025 2025</text></svg><svg class="a" style="left:0;top:70px" width="112" height="60" viewBox="0 0 112 60"><path d="M82 10 L86 20 L97 20.5 L88.5 27 L91.5 37.5 L82 31.5 L72.5 37.5 L75.5 27 L67 20.5 L78 20 Z" fill="#fcf5f0" stroke="#f8e9df" stroke-width="1.3"/><text x="14.5" y="43" font-size="9" font-weight="bold" font-style="italic" font-family="Liberation Sans" fill="#f7e7dc" textLength="37">MARKING</text><text x="56" y="44.5" font-size="21" font-weight="bold" font-style="italic" font-family="Liberation Sans" fill="#fdf7f3" stroke="#f6e4d8" stroke-width="1.3" textLength="36">ON</text><text x="13" y="56" font-size="3.6" font-weight="bold" font-style="italic" font-family="Liberation Sans" fill="#f8ebe2" textLength="80">2025 12.5 2025 2025 2025 2025 2025</text></svg><svg class="a" style="left:69px;top:145px" width="30" height="20" viewBox="0 0 30 20"><path d="M14 1 L17.5 9 L26 9 L19.5 14 L22 22 L14 17 L6 22 L8.5 14 L2 9 L10.5 9 Z" fill="#fcf5f0" stroke="#f8e9df" stroke-width="1.4"/></svg><div class="a strip"><div class="stt">MARKINGON MARKINGON MARKINGON MARKINGON MARKINGON MARKINGON</div></div><svg class="a" style="left:52.6px;top:116.3px" width="34" height="34" viewBox="0 0 34 34"><circle cx="17" cy="17" r="13.4" fill="none" stroke="#bdbdbd" stroke-width="4.2"/><circle cx="17" cy="17" r="13.4" fill="none" stroke="#fff" stroke-width="1.1" stroke-dasharray="1.1 2.4" opacity=".95"/><text x="17.6" y="20.6" text-anchor="middle" font-size="9.8" font-weight="bold" fill="#bdbdbd" transform="rotate(-25 17 17)" font-family="Liberation Sans">적특</text></svg><div class="a cb" style="left:99.9px;top:6.6px;width:6.4px;height:6.4px;border-color:#cfcfcf"></div><div class="a tt">프로토(승부식)</div><div class="a bdg">출력</div><div class="a rnd">60회차</div><div class="a sm" style="top:33px">최종경기일자 2023.09.04 15:50</div><div class="a sm" style="top:43.6px;font-size:4.8px;letter-spacing:0">2경기 선택</div><div class="a dl" style="top:59px"></div><div class="a dl" style="top:71px"></div><div class="a dl" style="top:95px"></div><div class="a gt" style="left:4px;top:63.2px">경기</div><div class="a gt" style="left:21.5px;top:63.2px">홈팀</div><div class="a gt" style="left:47.4px;top:63.2px">원정팀</div><div class="a gt" style="left:72px;top:63.2px">예상</div><div class="a gt" style="left:87.8px;top:63.2px">배당률</div><div class="a gr" style="left:4px;top:77px">UP013</div><div class="a gr" style="left:21.5px;top:77px">요코베이</div><div class="a gr" style="left:47.4px;top:77px">7.5 마쿠르드</div><div class="a gr" style="left:72px;top:77px">오버</div><div class="a gr" style="left:87.8px;top:77px">1.67</div><div class="a gr" style="left:4px;top:86px">UP013</div><div class="a gr" style="left:21.5px;top:86px">요코베이</div><div class="a gr" style="left:47.4px;top:86px">7.5 마쿠르드</div><div class="a gr" style="left:72px;top:86px">오버</div><div class="a gr" style="left:87.8px;top:86px">1.67</div><div class="a lb" style="top:106px">예상 적중배당률 :</div><div class="a lb" style="top:112px">개별 투표금액 :</div><div class="a lb" style="top:127.5px">예상 적중금 :</div><div class="a vl" style="top:106px"><b>2.4</b><span>배</span></div><div class="a vl" style="top:112px"><b>3,200</b><span>원</span></div><div class="a vl" style="top:127.5px"><b>20,000</b><span>원</span></div><div class="a tot">총<span style="margin-left:1.8px;letter-spacing:-0.35px">투표금액</span><b style="margin-left:3.5px;margin-right:2.6px;font-size:6.6px;font-weight:normal;-webkit-text-stroke:0.2px #222">20,000</b>원</div></div>
<svg class="a" style="left:388.5px;top:489.5px" width="13" height="12" viewBox="0 0 13 12"><path d="M0.5 1.5 H4.2 Q6 1.5 6 3.8 Q6 6.3 4 6.3 H2.6 V11.3 H0.5 Z" fill="#a5a7a6"/><path d="M4.5 4.5 L7.5 0.8" stroke="#f4f4f4" stroke-width="1.2"/><rect x="5.2" y="9.6" width="1.4" height="1.6" fill="#555"/><rect x="9.4" y="7" width="1.1" height="4.3" fill="#999"/></svg>
<div class="a" style="left:402.6px;top:495px;font-size:6px;line-height:7px;color:#8a8c8b">MarkingOn</div>
<div class="a" style="left:353.3px;top:511.6px;font-size:5.2px;line-height:6px;color:#555;transform:scaleX(0.903);transform-origin:0 0">COPYRIGHT © MarkingOn ALL RIGHTS RESERVED.</div></body></html>
